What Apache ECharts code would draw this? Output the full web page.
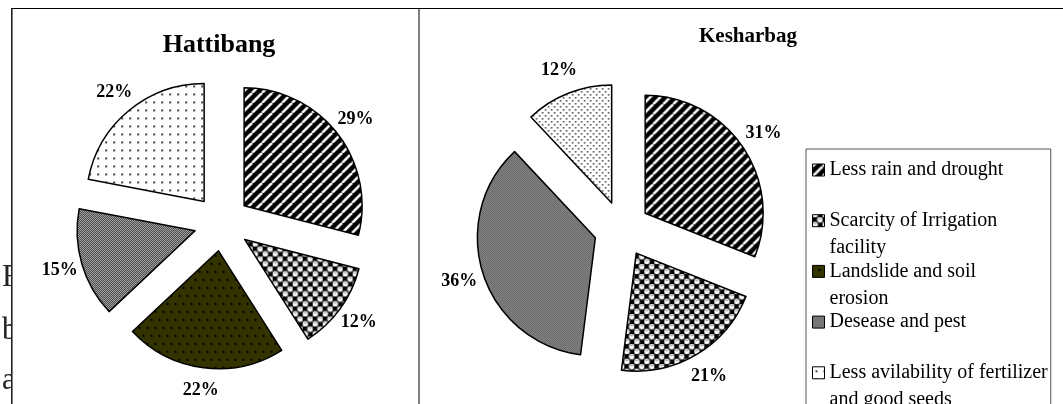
<!DOCTYPE html>
<html>
<head>
<meta charset="utf-8">
<script src="https://cdn.jsdelivr.net/npm/echarts@6/dist/echarts.min.js"></script>
<style>
html, body { margin: 0; padding: 0; background: #fff; }
#chart { width: 1063px; height: 404px; }
</style>
</head>
<body>
<div id="chart"></div>
<script>
const categories = [
    'Less rain and drought',
    'Scarcity of Irrigation facility',
    'Landslide and soil erosion',
    'Desease and pest',
    'Less avilability of fertilizer and good seeds'
]
const legendLabels = [
    'Less rain and drought\n ',
    'Scarcity of Irrigation\nfacility',
    'Landslide and soil\nerosion',
    'Desease and pest\n ',
    'Less avilability of fertilizer\nand good seeds'
]
const hattibangValues = [29, 12, 22, 15, 22]
const kesharbagValues = [31, 21, 0, 36, 12]

// small canvas tiles used as pattern fills
function tile(w, h, draw) {
    let c = document.createElement('canvas')
    c.width = w
    c.height = h
    draw(c.getContext('2d'))
    return { image: c, repeat: 'repeat' }
}

const stripes = tile(10, 10, g => {
    g.fillStyle = '#000'
    g.fillRect(0, 0, 10, 10)
    g.strokeStyle = '#fff'
    g.lineWidth = 2.6
    ;[-10, 0, 10].forEach(k => {
        g.beginPath()
        g.moveTo(k, 10)
        g.lineTo(k + 10, 0)
        g.stroke()
    })
})
const checks = tile(10, 10, g => {
    g.fillStyle = '#fff'
    g.fillRect(0, 0, 10, 10)
    g.fillStyle = '#000'
    g.fillRect(0, 0, 5, 5)
    g.fillRect(5, 5, 5, 5)
    ;[[7.5, 2.5], [2.5, 7.5]].forEach(p => {
        g.beginPath()
        g.arc(p[0], p[1], 3, 0, Math.PI * 2)
        g.fillStyle = '#fff'
        g.fill()
        g.strokeStyle = '#555'
        g.lineWidth = 0.7
        g.stroke()
        g.fillStyle = '#666'
        g.fillRect(p[0] - 1, p[1] - 1.2, 2, 0.8)
    })
})
const oliveDots = tile(8, 16, g => {
    g.fillStyle = '#333300'
    g.fillRect(0, 0, 8, 16)
    g.fillStyle = '#000'
    g.fillRect(2, 3, 2, 2)
    g.fillRect(6, 11, 2, 2)
})
const grayDither = tile(2, 2, g => {
    g.fillStyle = '#cdcdcd'
    g.fillRect(0, 0, 2, 2)
    g.fillStyle = '#222'
    g.fillRect(0, 0, 1, 1)
    g.fillRect(1, 1, 1, 1)
})
const sparseDots = tile(8, 8, g => {
    g.fillStyle = '#fff'
    g.fillRect(0, 0, 8, 8)
    g.fillStyle = '#444'
    g.fillRect(3, 3, 2, 2)
})
const denseDots = tile(6, 6, g => {
    g.fillStyle = '#fff'
    g.fillRect(0, 0, 6, 6)
    g.fillStyle = '#555'
    g.fillRect(0, 0, 1.6, 1.6)
    g.fillRect(3, 3, 1.6, 1.6)
})

const hattibangFills = [stripes, checks, oliveDots, grayDither, sparseDots]
const kesharbagFills = [stripes, checks, oliveDots, grayDither, denseDots]

function buildData(values, fills) {
    return categories.map((name, i) => ({
        name: name,
        value: values[i],
        selected: true,
        itemStyle: { color: fills[i], borderWidth: values[i] === 0 ? 0 : 1.5 },
        label: { show: values[i] !== 0 }
    }))
}

function pieSeries(center, values, fills, labelDist) {
    return {
        type: 'pie',
        center: center,
        radius: [0, 118],
        startAngle: 90,
        clockwise: true,
        selectedMode: 'multiple',
        selectedOffset: 28,
        avoidLabelOverlap: false,
        animation: false,
        itemStyle: { borderColor: '#000', borderWidth: 1.5 },
        label: {
            position: 'outside',
            alignTo: 'none',
            formatter: '{c}%',
            fontFamily: 'Liberation Serif',
            fontWeight: 'bold',
            fontSize: 18,
            color: '#000',
            distanceToLabelLine: 0
        },
        labelLine: { show: false, length: labelDist, length2: -18 },
        emphasis: { disabled: true },
        data: buildData(values, fills)
    }
}

let myChart = echarts.init(document.getElementById('chart'))
let option = {
    backgroundColor: '#fff',
    animation: false,
    title: [
        {
            text: 'Hattibang',
            left: 219,
            top: 32,
            padding: 0,
            textAlign: 'center',
            textStyle: { fontFamily: 'Liberation Serif', fontSize: 26, fontWeight: 'bold', color: '#000' }
        },
        {
            text: 'Kesharbag',
            left: 748,
            top: 26,
            padding: 0,
            textAlign: 'center',
            textStyle: { fontFamily: 'Liberation Serif', fontSize: 21, fontWeight: 'bold', color: '#000' }
        }
    ],
    legend: {
        orient: 'vertical',
        left: 806,
        top: 149,
        height: 320,
        padding: [7, 3, 6, 6],
        itemWidth: 12,
        itemHeight: 54,
        itemGap: -4.3,
        borderColor: '#555',
        borderWidth: 1,
        backgroundColor: '#fff',
        icon: 'path://M0,0M0,7.5L12,7.5L12,19.5L0,19.5ZM0,54',
        selectedMode: false,
        formatter: name => legendLabels[categories.indexOf(name)],
        textStyle: { fontFamily: 'Liberation Serif', fontSize: 20, lineHeight: 27, color: '#000' },
        itemStyle: { borderColor: '#000', borderWidth: 1 },
        data: categories
    },
    graphic: [
        { type: 'text', x: 2, y: 278, z: 0, style: { text: 'F', font: '31px "Liberation Serif"', fill: '#222', verticalAlign: 'middle', textVerticalAlign: 'middle' } },
        { type: 'text', x: 2, y: 331, z: 0, style: { text: 'b', font: '31px "Liberation Serif"', fill: '#222', verticalAlign: 'middle', textVerticalAlign: 'middle' } },
        { type: 'text', x: 2, y: 381, z: 0, style: { text: 'a', font: '31px "Liberation Serif"', fill: '#222', verticalAlign: 'middle', textVerticalAlign: 'middle' } },
        { type: 'rect', z: 1, shape: { x: 12, y: 9, width: 1051, height: 395 }, style: { fill: '#fff' } },
        { type: 'line', z: 5, shape: { x1: 11, y1: 8.5, x2: 1063, y2: 8.5 }, style: { stroke: '#000', lineWidth: 1 } },
        { type: 'line', z: 5, shape: { x1: 11.8, y1: 8, x2: 11.8, y2: 404 }, style: { stroke: '#222', lineWidth: 1.6 } },
        { type: 'line', z: 5, shape: { x1: 419, y1: 8, x2: 419, y2: 404 }, style: { stroke: '#000', lineWidth: 1 } }
    ],
    series: [
        pieSeries([222, 223], hattibangValues, hattibangFills, 23),
        pieSeries([622, 229], kesharbagValues, kesharbagFills, 25)
    ]
}
myChart.setOption(option)
</script>
</body>
</html>
